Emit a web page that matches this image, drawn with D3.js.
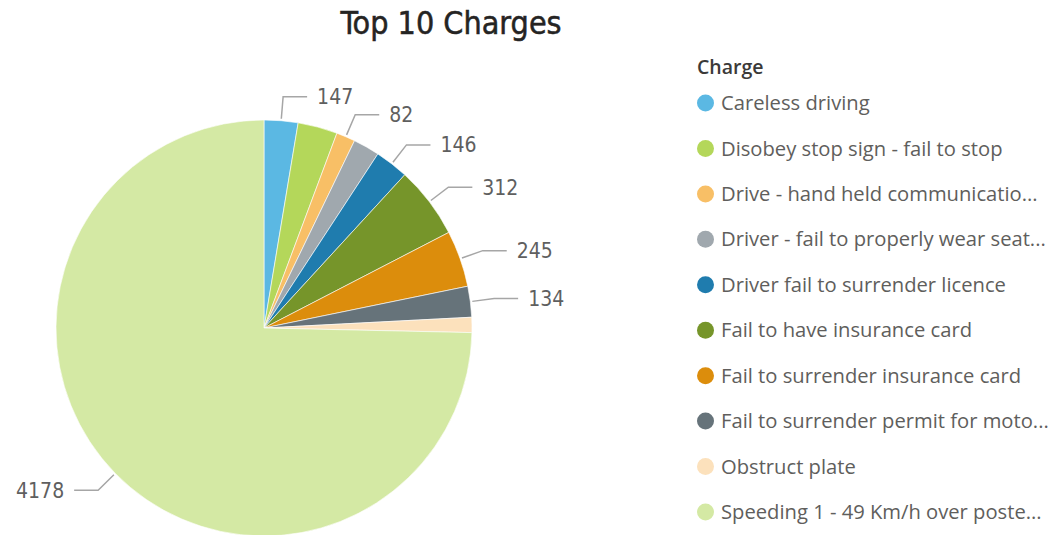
<!DOCTYPE html>
<html>
<head>
<meta charset="utf-8">
<script src="https://cdn.jsdelivr.net/npm/d3@7"></script>
<style>
  html, body { margin: 0; padding: 0; background: #fff; overflow: hidden; }
  svg { display: block; }
</style>
</head>
<body>
<svg id="chart" width="1054" height="535"></svg>
<script>
const categories = [
  "Careless driving",
  "Disobey stop sign - fail to stop",
  "Drive - hand held communicatio...",
  "Driver - fail to properly wear seat...",
  "Driver fail to surrender licence",
  "Fail to have insurance card",
  "Fail to surrender insurance card",
  "Fail to surrender permit for moto...",
  "Obstruct plate",
  "Speeding 1 - 49 Km/h over poste..."
];
const values = [147, 172, 82, 115, 146, 312, 245, 134, 66, 4178];
const showLabel = [true, false, true, false, true, true, true, true, false, true];
const colors = ["#5BB8E3", "#B4D75A", "#F8BF66", "#A0A8AE", "#1F7CAE", "#76952A", "#DC8D0C", "#66737A", "#FCE1BC", "#D4E9A4"];
const titleText = "Top 10 Charges";
const legendTitle = "Charge";

const svg = d3.select("#chart");
const cx = 264, cy = 328, R = 208;

svg.append("text")
  .attr("x", 451).attr("y", 34)
  .attr("text-anchor", "middle")
  .attr("font-family", "'DejaVu Sans Condensed', 'DejaVu Sans', sans-serif")
  .attr("font-size", 32)
  .attr("fill", "#252423")
  .attr("stroke", "#252423")
  .attr("stroke-width", 0.5)
  .text(titleText);

const data = categories.map((c, i) => ({ name: c, value: values[i], color: colors[i], label: showLabel[i] }));

const pie = d3.pie().value(d => d.value).sort(null);
const arcs = pie(data);
const arc = d3.arc().innerRadius(0).outerRadius(R);

const g = svg.append("g").attr("transform", `translate(${cx},${cy})`);
g.selectAll("path").data(arcs).join("path")
  .attr("d", arc)
  .attr("fill", d => d.data.color)
  .attr("stroke", "#fff")
  .attr("stroke-width", 0.6);

// Leader lines and labels
const lines = g.append("g");
arcs.filter(d => d.data.label).forEach(d => {
  const a = (d.startAngle + d.endAngle) / 2;
  const sx = Math.sin(a), sy = -Math.cos(a);
  const p0 = [sx * (R + 2), sy * (R + 2)];
  const p1 = [sx * 232, sy * 232];
  const right = sx >= 0;
  const p2 = [p1[0] + (right ? 24 : -24), p1[1]];
  lines.append("polyline")
    .attr("points", [p0, p1, p2].map(p => p.join(",")).join(" "))
    .attr("fill", "none")
    .attr("stroke", "#A6A6A6")
    .attr("stroke-width", 1.5);
  lines.append("text")
    .attr("x", p2[0] + (right ? 10 : -10))
    .attr("y", p2[1])
    .attr("dy", "0.36em")
    .attr("text-anchor", right ? "start" : "end")
    .attr("font-family", "'DejaVu Sans Condensed', 'DejaVu Sans', sans-serif")
    .attr("font-size", 21)
    .attr("fill", "#5F5F5F")
    .text(d3.format("d")(d.data.value));
});

// Legend
const lg = svg.append("g").attr("transform", "translate(697,0)");
lg.append("text")
  .attr("x", 0).attr("y", 74)
  .attr("font-family", "'Open Sans', sans-serif")
  .attr("font-size", 19.5)
  .attr("font-weight", 600)
  .attr("fill", "#3B3A39")
  .text(legendTitle);
const ly = d3.scalePoint().domain(categories).range([103, 512]);
const items = lg.selectAll("g.item").data(data).join("g")
  .attr("class", "item")
  .attr("transform", d => `translate(0,${ly(d.name)})`);
items.append("circle").attr("cx", 8.5).attr("cy", 0).attr("r", 8.5).attr("fill", d => d.color);
items.append("text")
  .attr("x", 24).attr("y", 0).attr("dy", "0.35em")
  .attr("font-family", "'Open Sans', sans-serif")
  .attr("font-size", 20.2)
  .attr("fill", "#605E5C")
  .text(d => d.name);
</script>
</body>
</html>
